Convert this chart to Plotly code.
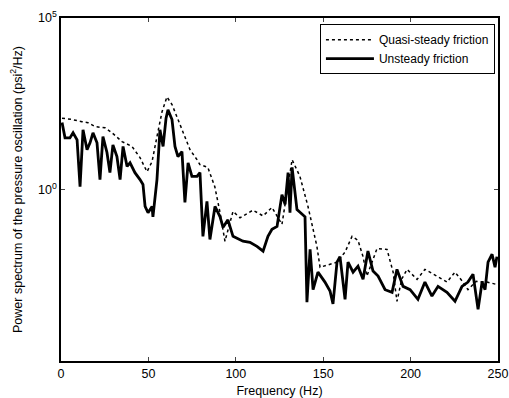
import plotly.graph_objects as go

# Quasi-steady friction (dotted)
freq_qs = [0.6, 6.3, 12, 15.4, 19.5, 25.2, 29.2, 34.9, 40.6, 45.2, 49.2, 52.1, 54.9, 57.8, 60.6,
           63.5, 68.1, 73.8, 77.8, 79.5, 84, 88, 91, 93.8, 98.4, 102.4, 109.8, 115.6, 120.7, 126.4,
           132.2, 136.7, 141.3, 146.4, 148.2, 157.9, 162.5, 166.5, 169.9, 172.8, 175, 180.8, 186.5,
           190, 192.2, 195, 198, 203.7, 208.2, 215.1, 220.8, 225.4, 230, 232.8, 237.5, 243.7, 249.4]
power_qs = [120, 110, 95, 89, 68, 63, 45, 25, 18, 8.5, 3.3, 6.5, 35, 185, 500,
            300, 78, 14.5, 7.4, 5.3, 4.4, 1.2, 0.21, 0.031, 0.23, 0.15, 0.25, 0.17, 0.3, 0.096,
            7.4, 2.4, 0.32, 0.022, 0.0054, 0.0076, 0.015, 0.043, 0.033, 0.011, 0.003, 0.019, 0.018,
            0.0039, 0.00055, 0.0025, 0.0047, 0.0024, 0.0047, 0.003, 0.002, 0.0039, 0.002, 0.0012, 0.0021, 0.002, 0.0017]

# Unsteady friction (solid)
freq_us = [0.6, 2.3, 5.1, 6.9, 9.2, 10.9, 12.6, 14.9, 16.6, 18.3, 20.6, 22.3, 24, 26.3, 28, 29.7,
           32, 33.8, 35.5, 37.8, 39.5, 42.3, 45.2, 46.9, 48.1, 49.8, 52.1, 52.6, 54.9, 56.6, 58.4,
           60.1, 61.2, 63.5, 65.2, 66.9, 69.2, 70.9, 72.7, 74.9, 77.8, 79.5, 81.2, 83.5, 85.2, 88.1,
           91, 92.7, 95.5, 98.4, 104.1, 108.1, 112.1, 115.6, 118.4, 120.7, 123.6, 126.4, 128.2, 129.9,
           131, 132.2, 135, 137.9, 139.6, 140.7, 142.5, 144.2, 147, 151, 153.9, 155.6, 157.9, 159.6,
           162.5, 164.2, 167.1, 169.9, 172.8, 175.6, 178.5, 181.4, 185.4, 189.4, 192.2, 195.7, 199.7,
           204.2, 208.2, 212.2, 215.7, 220.8, 225.4, 229.4, 232.8, 235.7, 238.6, 240.9, 242.6, 244.3,
           246.6, 248.3, 249.4]
power_us = [89, 32, 32, 45, 28, 1.2, 55, 14.5, 23, 45, 23, 1.95, 35, 12, 3.1, 20,
            9.1, 1.95, 18, 4.7, 6, 3.1, 1.95, 1.4, 0.32, 0.21, 0.32, 0.16, 1.95, 55, 18,
            120, 210, 110, 18, 9.1, 12.7, 0.42, 6, 2.4, 2.4, 3.1, 0.043, 0.45, 0.035, 0.32,
            0.16, 0.079, 0.13, 0.043, 0.031, 0.029, 0.022, 0.016, 0.043, 0.069, 0.084, 0.71, 0.37, 3.1,
            0.21, 4.4, 0.26, 0.19, 0.16, 0.00052, 0.018, 0.0012, 0.0039, 0.002, 0.0011, 0.00046, 0.0076, 0.011,
            0.00063, 0.0076, 0.0039, 0.0058, 0.0024, 0.016, 0.0042, 0.003, 0.0012, 0.001, 0.0047, 0.0015, 0.0012,
            0.00063, 0.002, 0.00078, 0.0015, 0.001, 0.00055, 0.0015, 0.002, 0.0034, 0.00032, 0.002, 0.0012, 0.0076,
            0.013, 0.0054, 0.011]

x_ticks = [0, 50, 100, 150, 200, 250]
y_tickvals = [1, 1e5]
y_ticktext = ["10<sup>0</sup>", "10<sup>5</sup>"]

FAM = "Liberation Sans, Arial, sans-serif"
title_font = dict(family=FAM, size=12.5, color="black")
tick_font = dict(family=FAM, size=12.5, color="black")

fig = go.Figure()
fig.add_trace(go.Scatter(x=freq_qs, y=power_qs, mode="lines", name="Quasi-steady friction",
                         line=dict(color="black", width=1.5, dash="dot")))
fig.add_trace(go.Scatter(x=freq_us, y=power_us, mode="lines", name="Unsteady friction",
                         line=dict(color="black", width=2.8)))

fig.update_layout(
    width=509, height=398,
    margin=dict(l=61, r=11, t=18, b=37, autoexpand=False),
    paper_bgcolor="white", plot_bgcolor="white",
    font=dict(family=FAM, size=12, color="black"),
    showlegend=True,
    legend=dict(x=0.993, y=0.982, xanchor="right", yanchor="top",
                bordercolor="black", borderwidth=1, bgcolor="white",
                font=dict(family=FAM, size=12, color="black"),
                tracegroupgap=0, itemwidth=48),
)
fig.update_xaxes(range=[0, 250], tickvals=x_ticks, ticks="inside", ticklen=4,
                 showline=True, linecolor="black", linewidth=1.5, mirror="ticks",
                 showgrid=False, zeroline=False, automargin=False,
                 title=dict(text="Frequency (Hz)", standoff=6, font=title_font),
                 tickfont=tick_font)
fig.update_yaxes(type="log", range=[-5, 5], tickvals=y_tickvals, ticktext=y_ticktext,
                 ticks="inside", ticklen=4,
                 showline=True, linecolor="black", linewidth=1.5, mirror="ticks",
                 showgrid=False, zeroline=False, automargin=False,
                 title=dict(text="Power spectrum of the pressure oscillation (psi<sup>2</sup>/Hz)",
                            standoff=13, font=title_font),
                 tickfont=tick_font)

fig.write_html("out.html")
